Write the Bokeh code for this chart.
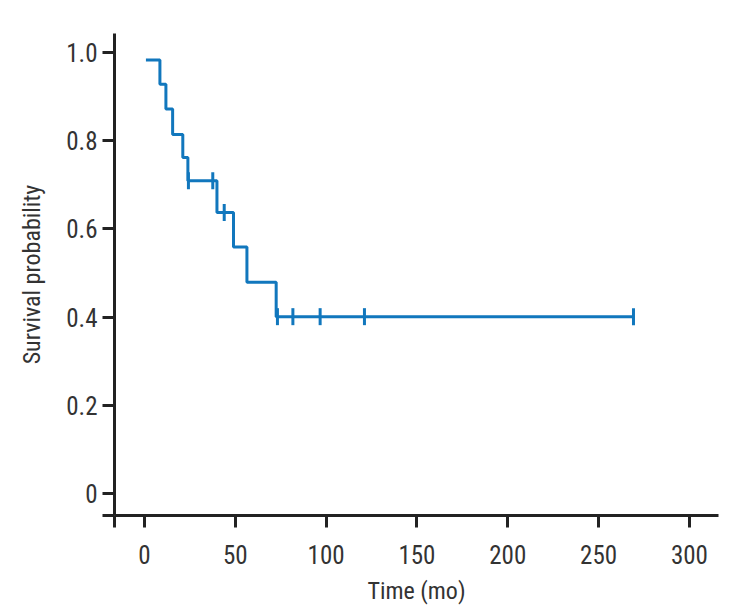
import numpy as np
from bokeh.plotting import figure
from bokeh.models import FixedTicker, Range1d
from bokeh.embed import file_html
from bokeh.resources import INLINE

# Kaplan-Meier step curve (time in months, survival probability)
step_times = [0.8, 8.5, 11.8, 15.5, 21.1, 23.9, 39.9, 49.0, 56.4, 72.5, 269.2]
step_surv = [0.983, 0.928, 0.872, 0.814, 0.762, 0.709, 0.637, 0.559, 0.479, 0.401, 0.401]

# censored observations
censor_times = [24.2, 37.6, 43.9, 73.2, 81.7, 96.7, 121.1, 269.2]
censor_surv = [0.709, 0.709, 0.637, 0.401, 0.401, 0.401, 0.401, 0.401]

x_ticks = [0, 50, 100, 150, 200, 250, 300]
y_ticks = [0, 0.2, 0.4, 0.6, 0.8, 1.0]
y_tick_labels = ["0", "0.2", "0.4", "0.6", "0.8", "1.0"]

X_START, X_END = -16.5, 316
Y_START, Y_END = -0.0498, 1.043

FONT = "Roboto Condensed, DejaVu Sans Condensed, Roboto"
AXIS_COLOR = "#222222"
TEXT_COLOR = "#333333"
CURVE_COLOR = "#1177bd"

p = figure(width=728, height=607, output_backend="svg", toolbar_location=None,
           x_range=Range1d(X_START, X_END), y_range=Range1d(Y_START, Y_END),
           min_border_left=114, min_border_right=10, min_border_top=33, min_border_bottom=91)
p.outline_line_color = None
p.xgrid.visible = False
p.ygrid.visible = False
p.background_fill_color = "white"
p.border_fill_color = "white"

p.step(step_times, step_surv, mode="after", line_color=CURVE_COLOR, line_width=3)
p.scatter(censor_times, censor_surv, marker="dash", angle=np.pi / 2, size=17,
          line_color=CURVE_COLOR, line_width=3)

xa = p.xaxis[0]
xa.ticker = FixedTicker(ticks=[X_START] + x_ticks)
xa.major_label_overrides = {X_START: ""}
for t in x_ticks:
    xa.major_label_overrides[t] = str(t)
xa.axis_label = "Time (mo)"

ya = p.yaxis[0]
ya.ticker = FixedTicker(ticks=[Y_START] + y_ticks)
ov = {Y_START: ""}
for t, l in zip(y_ticks, y_tick_labels):
    ov[t] = l
ya.major_label_overrides = ov
ya.axis_label = "Survival probability"

for ax in (xa, ya):
    ax.axis_line_color = AXIS_COLOR
    ax.axis_line_width = 3
    ax.major_tick_line_color = AXIS_COLOR
    ax.major_tick_line_width = 3
    ax.major_tick_out = 12
    ax.major_tick_in = 0
    ax.minor_tick_line_color = None
    ax.major_label_text_font = FONT
    ax.major_label_text_font_size = "25px"
    ax.major_label_text_color = TEXT_COLOR
    ax.axis_label_text_font = FONT
    ax.axis_label_text_font_size = "24px"
    ax.axis_label_text_font_style = "normal"
    ax.axis_label_text_color = TEXT_COLOR

xa.major_label_standoff = 17
xa.axis_label_standoff = 10
ya.major_label_standoff = 5
ya.axis_label_standoff = 17
ya.major_label_orientation = "horizontal"

open("out.html", "w").write(file_html(p, INLINE))
